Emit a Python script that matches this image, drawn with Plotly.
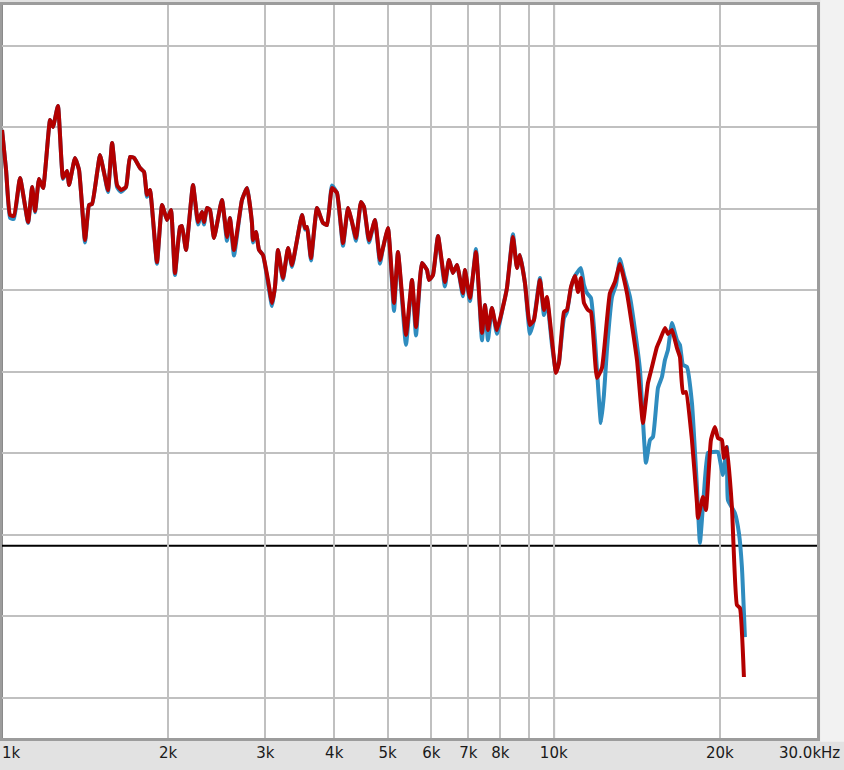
import plotly.graph_objects as go

# ---- data (frequency in Hz, level in dB) ----
red_freq = [1000, 1017, 1034, 1051, 1078, 1115, 1134, 1148, 1167, 1187, 1222, 1237, 1263, 1290, 1312, 1323,
            1356, 1379, 1414, 1438, 1456, 1487, 1505, 1531, 1556, 1583, 1616, 1643, 1678, 1706, 1735, 1779,
            1809, 1831, 1854, 1909, 1950, 1991, 2024, 2058, 2102, 2119, 2155, 2219, 2266, 2304, 2323, 2353,
            2382, 2422, 2504, 2557, 2589, 2633, 2722, 2780, 2838, 2850, 2886, 2923, 2972, 3034, 3086, 3124,
            3164, 3230, 3299, 3354, 3425, 3497, 3541, 3571, 3631, 3723, 3817, 3882, 3963, 4047, 4150, 4237,
            4308, 4381, 4473, 4530, 4625, 4742, 4842, 4903, 5007, 5134, 5220, 5397, 5534, 5628, 5770, 5892,
            5941, 6041, 6169, 6350, 6457, 6566, 6677, 6846, 6903, 7049, 7228, 7411, 7504, 7599, 7726, 7889,
            8089, 8226, 8434, 8576, 8684, 8867, 9054, 9207, 9440, 9599, 9720, 9926, 10093, 10220, 10436, 10567,
            10745, 10926, 11064, 11203, 11344, 11535, 11680, 11976, 12228, 12486, 12643, 12910, 13183, 13574,
            14154, 14512, 14818, 15066, 15384, 15578, 15906, 16106, 16377, 16722, 16933, 17146, 17362, 17802,
            18177, 18253, 18638, 18872, 19270, 19595, 19842, 20176, 20345, 20601, 21035, 21478, 21749, 22115]
red_db = [25.50, 23.05, 20.29, 20.23, 22.56, 19.86, 22.01, 20.53, 22.50, 21.94, 26.12, 25.69, 26.98, 22.56, 22.99, 22.13,
          23.79, 23.05, 18.75, 20.90, 20.96, 22.87, 23.97, 22.87, 21.82, 24.71, 22.13, 21.82, 22.01, 23.85, 23.79, 23.17,
          22.93, 21.52, 21.82, 17.40, 20.90, 19.98, 20.60, 16.73, 19.55, 19.61, 18.14, 22.13, 19.86, 20.47, 19.86, 20.72,
          20.60, 18.88, 21.21, 18.94, 20.10, 18.14, 21.21, 21.94, 19.80, 18.75, 19.25, 18.14, 17.83, 16.30, 14.89, 15.87,
          18.14, 16.42, 18.26, 17.22, 18.75, 20.29, 19.49, 19.55, 17.65, 20.72, 19.80, 19.67, 21.94, 21.64, 18.57, 20.72,
          19.86, 18.88, 21.09, 20.78, 18.75, 19.98, 17.53, 18.26, 19.49, 14.89, 18.02, 12.93, 16.30, 13.42, 17.34, 16.91,
          16.30, 16.61, 19.00, 16.18, 17.53, 16.73, 17.22, 15.50, 16.91, 15.20, 18.02, 13.05, 14.77, 13.23, 14.58, 13.23,
          14.64, 15.81, 18.94, 17.04, 17.83, 16.12, 13.54, 13.85, 16.30, 14.46, 15.26, 12.62, 10.60, 11.21, 14.34, 14.46,
          15.87, 16.55, 15.56, 16.42, 14.89, 14.46, 14.34, 10.29, 10.90, 13.85, 15.50, 16.18, 17.28, 15.50,
          11.39, 7.53, 9.98, 10.96, 12.19, 12.62, 13.36, 12.99, 13.23, 12.13, 11.58, 9.37, 9.43, 6.48,
          2.62, 1.70, 2.99, 2.19, 6.48, 7.28, 6.61, 6.48, 5.38, 6.06, 2.37, -3.64, -3.82, -8.06]

blue_freq = [1000, 1017, 1034, 1051, 1078, 1115, 1134, 1148, 1167, 1187, 1222, 1237, 1263, 1290, 1312, 1323,
             1356, 1379, 1414, 1438, 1456, 1487, 1505, 1531, 1556, 1583, 1616, 1643, 1678, 1706, 1735, 1779,
             1809, 1831, 1854, 1909, 1950, 1991, 2024, 2058, 2102, 2119, 2155, 2219, 2266, 2304, 2323, 2353,
             2382, 2422, 2504, 2557, 2589, 2633, 2722, 2780, 2838, 2850, 2886, 2923, 2972, 3034, 3086, 3124,
             3164, 3230, 3299, 3354, 3425, 3497, 3541, 3571, 3631, 3723, 3817, 3882, 3963, 4047, 4150, 4237,
             4308, 4381, 4473, 4530, 4625, 4742, 4842, 4903, 5007, 5134, 5220, 5397, 5534, 5628, 5770, 5892,
             5941, 6041, 6169, 6350, 6457, 6566, 6677, 6846, 6903, 7049, 7228, 7411, 7504, 7599, 7726, 7889,
             8089, 8226, 8434, 8576, 8684, 8867, 9054, 9207, 9440, 9599, 9720, 9926, 10093, 10220, 10436, 10567,
             10745, 10926, 11203, 11344, 11487, 11680, 11877, 12177, 12330, 12486, 12753, 12964, 13183, 13405,
             13745, 14035, 14331, 14694, 14940, 15129, 15449, 15707, 15906, 16106, 16377, 16722, 16933, 17146,
             17435, 17802, 18177, 18406, 18716, 19030, 19431, 19842, 20260, 20601, 20687, 21300, 21659, 21931, 22207]
blue_db = [25.50, 23.05, 20.10, 20.05, 22.56, 19.80, 22.01, 20.45, 22.50, 21.94, 26.12, 25.69, 26.98, 22.50, 22.99, 22.13,
           23.79, 23.05, 18.60, 20.90, 20.96, 22.87, 23.97, 22.87, 21.70, 24.71, 22.00, 21.70, 22.01, 23.85, 23.79, 23.17,
           22.93, 21.40, 21.82, 17.30, 20.90, 19.98, 20.60, 16.60, 19.55, 19.61, 18.14, 22.13, 19.70, 20.47, 19.70, 20.72,
           20.60, 18.88, 21.21, 18.70, 20.10, 17.80, 21.21, 21.94, 19.80, 18.60, 19.25, 18.14, 17.83, 16.10, 14.70, 15.87,
           18.14, 16.30, 18.26, 17.10, 18.75, 20.29, 19.40, 19.55, 17.50, 20.72, 19.80, 19.67, 22.10, 21.64, 18.40, 20.72,
           19.86, 18.70, 21.09, 20.78, 18.60, 19.98, 17.30, 18.26, 19.49, 14.40, 18.02, 12.32, 16.30, 12.90, 17.34, 16.91,
           16.30, 16.61, 19.00, 15.90, 17.53, 16.73, 17.22, 15.30, 16.91, 15.00, 18.20, 12.60, 14.77, 12.60, 14.58, 13.00,
           14.64, 15.81, 19.10, 17.04, 17.83, 16.12, 13.00, 13.85, 16.42, 14.15, 15.07, 12.31, 10.66, 11.27, 13.97, 14.34,
           15.81, 16.55, 17.03, 15.99, 15.50, 15.20, 12.62, 7.53, 9.25, 12.01, 15.26, 15.99, 17.58, 16.61,
           15.26, 13.23, 10.78, 5.08, 6.48, 6.67, 9.68, 10.35, 11.39, 12.01, 13.66, 12.62, 12.31, 11.09,
           10.96, 8.75, 3.60, 0.17, 3.23, 5.69, 5.75, 5.75, 4.34, 6.06, 2.80, 2.00, 0.78, -1.31, -5.61]

# grid positions (Hz); inner labels drawn by the axis, edge labels placed so they stay inside the window
tick_vals = [1000, 2000, 3000, 4000, 5000, 6000, 7000, 8000, 9000, 10000, 20000, 30000]
tick_text = ["", "2k", "3k", "4k", "5k", "6k", "7k", "8k", "", "10k", "20k", ""]
edge_label_left = "1k"
edge_label_right = "30.0kHz"

fig = go.Figure()
fig.add_trace(go.Scatter(x=blue_freq, y=blue_db, mode="lines",
                         line=dict(color="#2f8cbf", width=4, shape="spline", smoothing=0.4),
                         showlegend=False, hoverinfo="skip"))
fig.add_trace(go.Scatter(x=red_freq, y=red_db, mode="lines",
                         line=dict(color="#b30000", width=4, shape="spline", smoothing=0.4),
                         showlegend=False, hoverinfo="skip"))

shapes = [
    # lighter strip on the right side of the window
    dict(type="rect", xref="paper", yref="paper", x0=1.004, x1=1.2, y0=-0.005, y1=1.1,
         fillcolor="#f2f2f2", line=dict(width=0), layer="below"),
    # darker decade lines (1k and 10k)
    dict(type="line", xref="paper", yref="paper", x0=0, x1=0, y0=0, y1=1,
         line=dict(color="#8a8a8a", width=2), layer="below"),
    dict(type="line", xref="paper", yref="paper", x0=0.6774, x1=0.6774, y0=0, y1=1,
         line=dict(color="#8a8a8a", width=2), layer="below"),
    # reference line
    dict(type="line", xref="paper", yref="y", x0=0, x1=1, y0=0, y1=0,
         line=dict(color="#000000", width=2), layer="below"),
]

annotations = [
    dict(text=edge_label_left, xref="paper", yref="paper", x=0, y=0, xanchor="left", yanchor="middle",
         xshift=-2, yshift=-15, showarrow=False, font=dict(family="DejaVu Sans", size=15, color="#1a1a1a")),
    dict(text=edge_label_right, xref="paper", yref="paper", x=1, y=0, xanchor="center", yanchor="middle",
         xshift=-8, yshift=-15, showarrow=False, font=dict(family="DejaVu Sans", size=15, color="#1a1a1a")),
]

fig.update_layout(
    width=844, height=770,
    margin=dict(l=2, r=27, t=5, b=32),
    paper_bgcolor="#e2e2e2",
    plot_bgcolor="#ffffff",
    shapes=shapes,
    annotations=annotations,
    font=dict(family="DejaVu Sans", size=15, color="#1a1a1a"),
    xaxis=dict(type="log", range=[2.99995, 4.47715], tickvals=tick_vals, ticktext=tick_text,
               showgrid=True, gridcolor="#c0c0c0", gridwidth=2, zeroline=False,
               ticks="", showline=True, linecolor="#9c9c9c", linewidth=3, mirror=True,
               tickfont=dict(size=15), automargin=False, ticklabelstandoff=-1),
    yaxis=dict(range=[-11.80, 33.17], tick0=0.675, dtick=5, showticklabels=False,
               showgrid=True, gridcolor="#c0c0c0", gridwidth=2, zeroline=False,
               ticks="", showline=True, linecolor="#9c9c9c", linewidth=3, mirror=True,
               automargin=False),
)

fig.write_html("out.html", config={"displayModeBar": False},
               post_script="document.body.style.margin='0';document.body.style.overflow='hidden';")
